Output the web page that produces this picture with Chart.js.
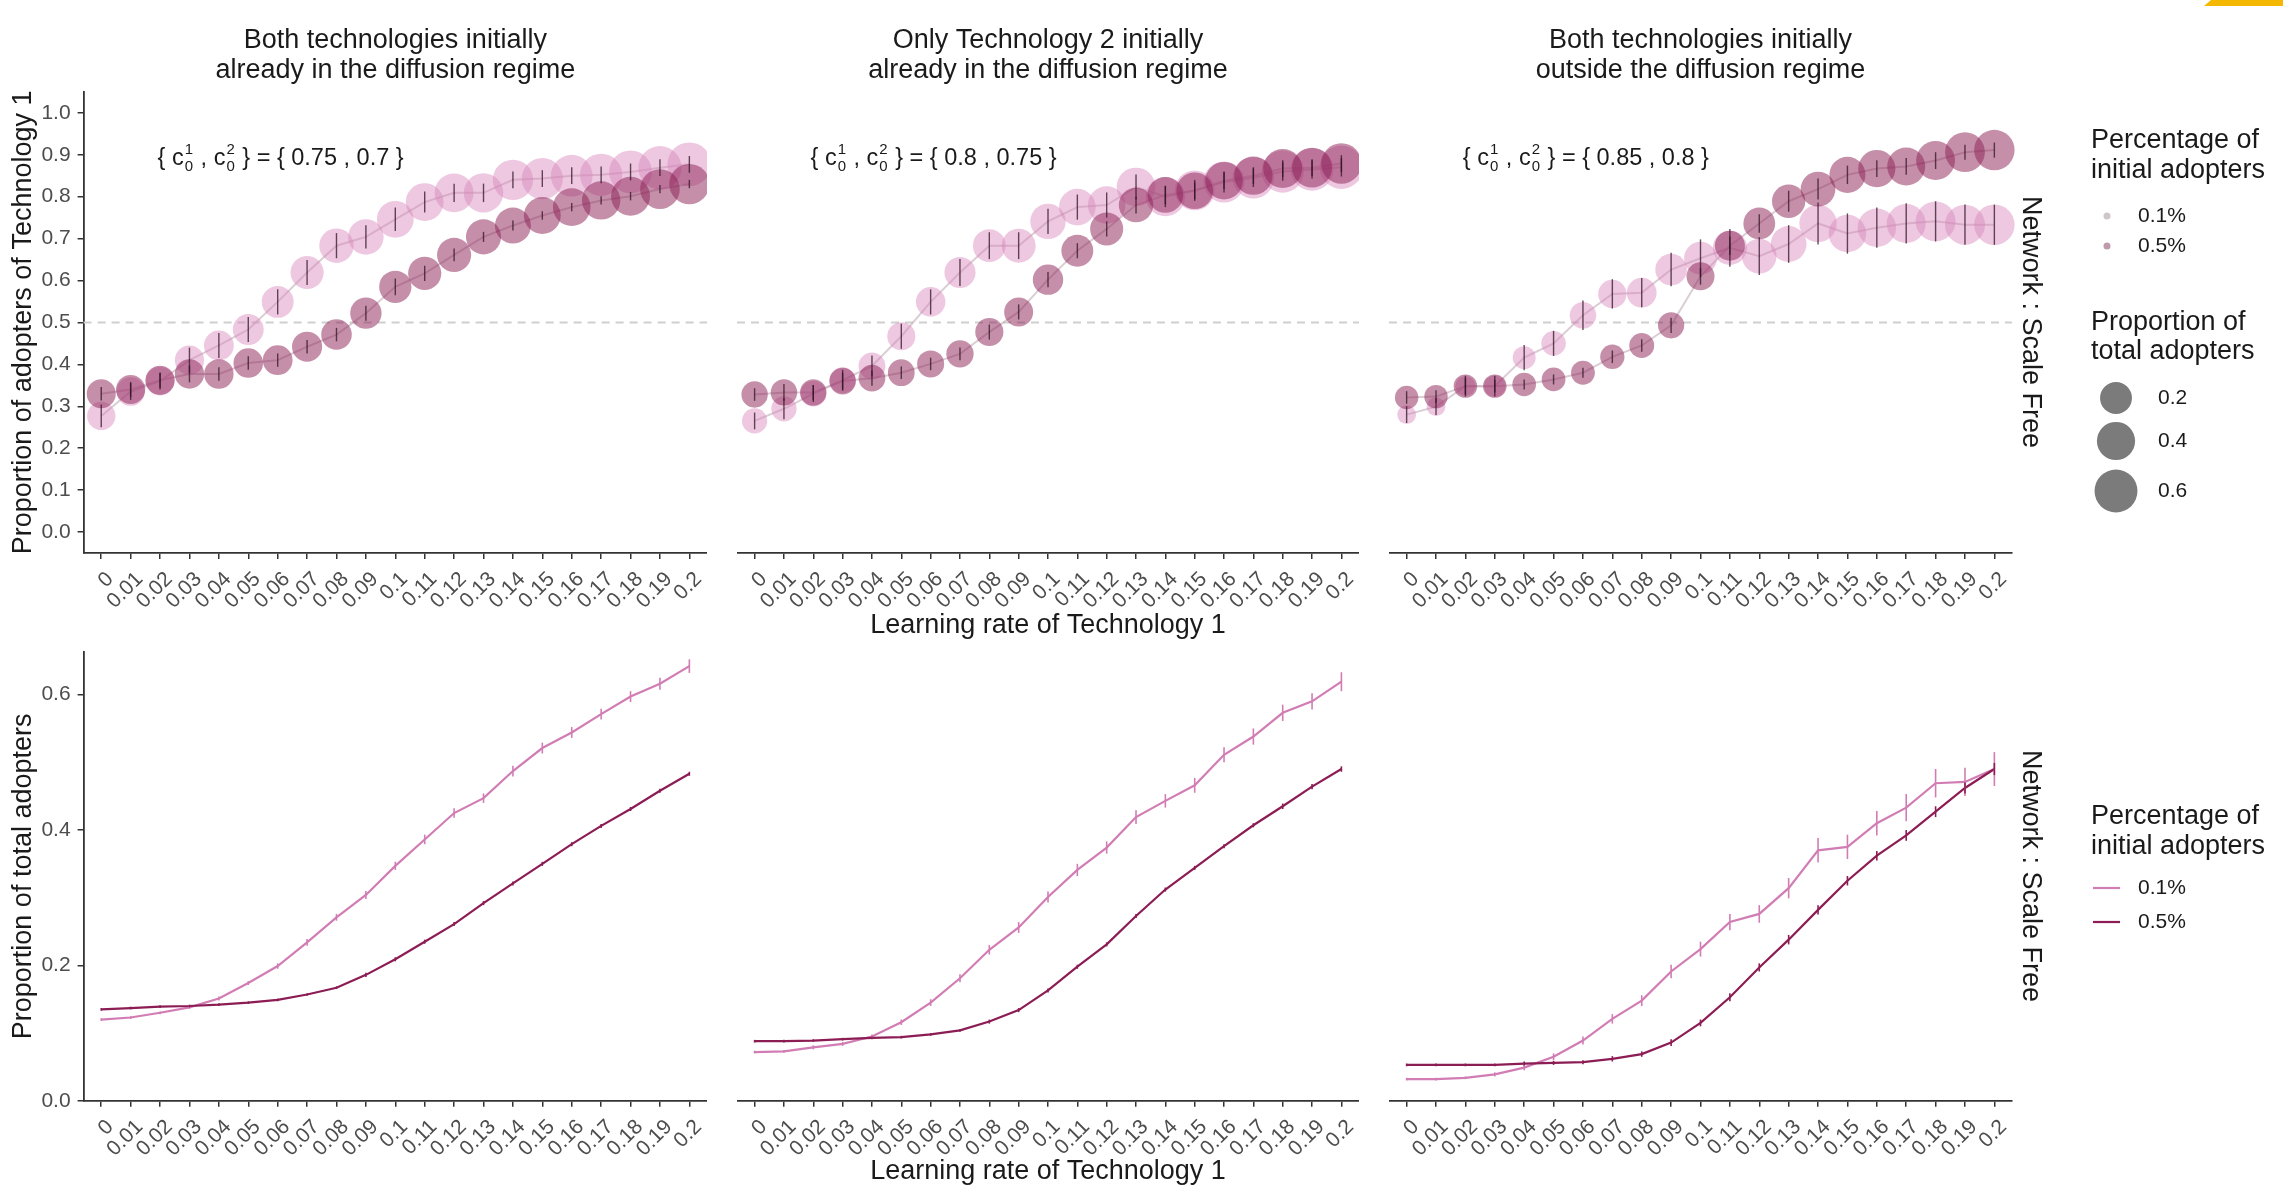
<!DOCTYPE html>
<html>
<head>
<meta charset="utf-8">
<script src="https://cdn.jsdelivr.net/npm/chart.js@4.4.1/dist/chart.umd.min.js"></script>
<style>
  html, body { margin: 0; padding: 0; background: #fff; }
  body { width: 2283px; height: 1188px; position: relative; overflow: hidden; }
  canvas { position: absolute; }
</style>
</head>
<body>
<canvas id="topBoth"></canvas>
<canvas id="topOnly"></canvas>
<canvas id="topOut"></canvas>
<canvas id="botBoth"></canvas>
<canvas id="botOnly"></canvas>
<canvas id="botOut"></canvas>
<script>
// learning rate of technology 1 (x categories)
const rates = ['0', '0.01', '0.02', '0.03', '0.04', '0.05', '0.06', '0.07', '0.08', '0.09', '0.1',
  '0.11', '0.12', '0.13', '0.14', '0.15', '0.16', '0.17', '0.18', '0.19', '0.2'];
const topYTicks = [0, 0.1, 0.2, 0.3, 0.4, 0.5, 0.6, 0.7, 0.8, 0.9, 1.0];
const bottomYTicks = [0, 0.2, 0.4, 0.6];
const initialShares = ['0.1%', '0.5%'];
const sizeBreaks = [0.2, 0.4, 0.6];
const cValues = [['0.75', '0.7'], ['0.8', '0.75'], ['0.85', '0.8']];

// proportion of adopters of technology 1 (top row)
const shareLowBoth = [0.277, 0.335, 0.36, 0.41, 0.445, 0.483, 0.549, 0.619, 0.683, 0.704, 0.746, 0.787, 0.809, 0.809, 0.84, 0.843, 0.85, 0.852, 0.859, 0.869, 0.877];
const shareHighBoth = [0.33, 0.34, 0.362, 0.377, 0.377, 0.403, 0.41, 0.442, 0.471, 0.522, 0.585, 0.617, 0.661, 0.704, 0.731, 0.755, 0.775, 0.791, 0.801, 0.818, 0.83];
const shareLowOnly = [0.265, 0.294, 0.33, 0.362, 0.396, 0.467, 0.549, 0.619, 0.683, 0.683, 0.741, 0.775, 0.78, 0.823, 0.80, 0.815, 0.835, 0.845, 0.86, 0.865, 0.87];
const shareHighOnly = [0.328, 0.333, 0.333, 0.36, 0.367, 0.38, 0.401, 0.425, 0.477, 0.525, 0.602, 0.671, 0.723, 0.78, 0.804, 0.814, 0.838, 0.85, 0.867, 0.869, 0.879];
const shareLowOut = [0.28, 0.299, 0.348, 0.348, 0.416, 0.45, 0.517, 0.568, 0.571, 0.626, 0.653, 0.678, 0.658, 0.687, 0.736, 0.712, 0.726, 0.736, 0.741, 0.733, 0.733];
const shareHighOut = [0.321, 0.323, 0.348, 0.348, 0.352, 0.364, 0.38, 0.418, 0.445, 0.493, 0.61, 0.683, 0.736, 0.789, 0.818, 0.852, 0.867, 0.872, 0.886, 0.906, 0.911];

// proportion of total adopters (bottom row, also bubble size)
const totalLowBoth = [0.12, 0.123, 0.13, 0.138, 0.151, 0.174, 0.199, 0.234, 0.271, 0.304, 0.347, 0.386, 0.425, 0.447, 0.487, 0.521, 0.544, 0.571, 0.597, 0.616, 0.642];
const totalHighBoth = [0.135, 0.137, 0.139, 0.14, 0.142, 0.145, 0.149, 0.157, 0.167, 0.186, 0.209, 0.235, 0.261, 0.292, 0.321, 0.35, 0.379, 0.406, 0.431, 0.458, 0.483];
const totalLowOnly = [0.072, 0.073, 0.079, 0.084, 0.095, 0.116, 0.145, 0.181, 0.223, 0.256, 0.301, 0.341, 0.374, 0.419, 0.443, 0.466, 0.511, 0.538, 0.573, 0.59, 0.619];
const totalHighOnly = [0.088, 0.088, 0.089, 0.091, 0.093, 0.094, 0.098, 0.104, 0.117, 0.134, 0.163, 0.198, 0.231, 0.273, 0.312, 0.344, 0.376, 0.407, 0.435, 0.464, 0.49];
const totalLowOut = [0.032, 0.032, 0.034, 0.039, 0.049, 0.065, 0.089, 0.121, 0.148, 0.191, 0.224, 0.264, 0.276, 0.314, 0.37, 0.375, 0.41, 0.433, 0.469, 0.471, 0.49];
const totalHighOut = [0.053, 0.053, 0.053, 0.053, 0.055, 0.056, 0.057, 0.062, 0.069, 0.086, 0.115, 0.153, 0.197, 0.238, 0.282, 0.325, 0.362, 0.392, 0.427, 0.462, 0.49];

// error bar half widths
const errShareLowBoth = [0.027, 0.02, 0.02, 0.03, 0.03, 0.03, 0.03, 0.03, 0.03, 0.028, 0.028, 0.025, 0.022, 0.022, 0.02, 0.02, 0.02, 0.02, 0.02, 0.02, 0.02];
const errShareHighBoth = [0.016, 0.018, 0.018, 0.02, 0.016, 0.016, 0.016, 0.016, 0.016, 0.018, 0.02, 0.018, 0.015, 0.012, 0.012, 0.01, 0.01, 0.01, 0.01, 0.01, 0.01];
const errShareLowOnly = [0.02, 0.025, 0.02, 0.025, 0.025, 0.03, 0.03, 0.032, 0.032, 0.032, 0.03, 0.03, 0.03, 0.03, 0.025, 0.025, 0.025, 0.022, 0.022, 0.022, 0.022];
const errShareHighOnly = [0.015, 0.02, 0.018, 0.02, 0.018, 0.015, 0.015, 0.015, 0.018, 0.018, 0.018, 0.018, 0.018, 0.02, 0.022, 0.02, 0.02, 0.02, 0.02, 0.02, 0.02];
const errShareLowOut = [0.02, 0.02, 0.025, 0.025, 0.03, 0.03, 0.035, 0.035, 0.035, 0.04, 0.045, 0.045, 0.045, 0.045, 0.05, 0.048, 0.048, 0.048, 0.048, 0.048, 0.048];
const errShareHighOut = [0.015, 0.015, 0.02, 0.015, 0.012, 0.012, 0.012, 0.015, 0.015, 0.018, 0.02, 0.022, 0.022, 0.025, 0.025, 0.022, 0.02, 0.02, 0.02, 0.018, 0.018];
const errTotalLowBoth = [0.002, 0.002, 0.002, 0.002, 0.003, 0.003, 0.004, 0.005, 0.005, 0.006, 0.006, 0.007, 0.007, 0.007, 0.008, 0.008, 0.008, 0.008, 0.008, 0.009, 0.01];
const errTotalHighBoth = [0.002, 0.002, 0.002, 0.002, 0.002, 0.002, 0.002, 0.002, 0.002, 0.003, 0.003, 0.003, 0.003, 0.003, 0.003, 0.003, 0.003, 0.003, 0.003, 0.003, 0.003];
const errTotalLowOnly = [0.002, 0.002, 0.003, 0.003, 0.003, 0.004, 0.005, 0.006, 0.007, 0.008, 0.008, 0.009, 0.009, 0.01, 0.01, 0.011, 0.011, 0.012, 0.012, 0.012, 0.014];
const errTotalHighOnly = [0.002, 0.002, 0.002, 0.002, 0.002, 0.002, 0.002, 0.002, 0.003, 0.003, 0.003, 0.003, 0.003, 0.003, 0.003, 0.003, 0.003, 0.003, 0.004, 0.004, 0.004];
const errTotalLowOut = [0.002, 0.002, 0.002, 0.003, 0.004, 0.005, 0.006, 0.007, 0.008, 0.01, 0.011, 0.012, 0.013, 0.015, 0.018, 0.018, 0.018, 0.02, 0.021, 0.021, 0.025];
const errTotalHighOut = [0.002, 0.002, 0.002, 0.002, 0.003, 0.003, 0.003, 0.004, 0.004, 0.005, 0.005, 0.006, 0.006, 0.007, 0.007, 0.007, 0.007, 0.008, 0.008, 0.008, 0.009];

const fontFamily = '"Liberation Sans", Arial, sans-serif';
Chart.defaults.font.family = fontFamily;
Chart.defaults.animation = false;

const lowColor = '#d17db4';
const highColor = '#8c1c54';
const lowFill = 'rgba(214,132,186,0.45)';
const highFill = 'rgba(139,31,86,0.5)';
const axisColor = '#333333';
const tickText = '#4d4d4d';
const darkText = '#1a1a1a';

// ggplot-like area scale for the bubbles
const allTotals = [].concat(totalLowBoth, totalHighBoth, totalLowOnly, totalHighOnly, totalLowOut, totalHighOut);
const sizeMin = Math.min(...allTotals);
const sizeMax = Math.max(...allTotals);
function bubbleRadius(v) {
  return 9.4 + 12.5 * Math.sqrt(Math.max(0, (v - sizeMin) / (sizeMax - sizeMin)));
}

function font(size) { return size + 'px ' + fontFamily; }

function drawNote(ctx, cx, cy, pair) {
  const parts = [['t', '{ c'], ['s', '1'], ['t', ' , c'], ['s', '2'], ['t', ' } = { ' + pair[0] + ' , ' + pair[1] + ' }']];
  let total = 0;
  parts.forEach(p => {
    ctx.font = p[0] === 't' ? font(23.5) : font(15);
    p.push(p[0] === 't' ? ctx.measureText(p[1]).width : Math.max(ctx.measureText(p[1]).width, ctx.measureText('0').width) + 2);
    total += p[2];
  });
  let x = cx - total / 2;
  ctx.fillStyle = darkText;
  ctx.textBaseline = 'middle';
  ctx.textAlign = 'left';
  parts.forEach(p => {
    if (p[0] === 't') {
      ctx.font = font(23.5);
      ctx.fillText(p[1], x, cy);
    } else {
      ctx.font = font(15);
      ctx.fillText(p[1], x + 1, cy - 9);
      ctx.fillText('0', x + 1, cy + 8);
    }
    x += p[2];
  });
}

function drawLegend(ctx, kind, top) {
  ctx.fillStyle = darkText;
  ctx.textAlign = 'left';
  ctx.textBaseline = 'middle';
  ctx.font = font(27);
  ctx.fillText('Percentage of', 2091, top);
  ctx.fillText('initial adopters', 2091, top + 30);
  ctx.font = font(21);
  initialShares.forEach((lab, i) => {
    const y = top + (kind === 'line' ? 71 + i * 34 : 75 + i * 30);
    if (kind === 'line') {
      ctx.strokeStyle = i === 0 ? lowColor : highColor;
      ctx.lineWidth = 2.2;
      ctx.beginPath(); ctx.moveTo(2093, y); ctx.lineTo(2120, y); ctx.stroke();
    } else {
      ctx.fillStyle = i === 0 ? 'rgba(170,150,160,0.55)' : 'rgba(140,70,100,0.55)';
      ctx.beginPath(); ctx.arc(2107, y, 3.5, 0, Math.PI * 2); ctx.fill();
    }
    ctx.fillStyle = darkText;
    ctx.fillText(lab, 2138, y);
  });
  if (kind !== 'bubble') return;
  ctx.font = font(27);
  ctx.fillText('Proportion of', 2091, top + 182);
  ctx.fillText('total adopters', 2091, top + 211);
  ctx.font = font(21);
  const ys = [top + 257, top + 300, top + 350];
  sizeBreaks.forEach((v, i) => {
    ctx.fillStyle = 'rgba(90,90,90,0.8)';
    ctx.beginPath(); ctx.arc(2116, ys[i], bubbleRadius(v), 0, Math.PI * 2); ctx.fill();
    ctx.fillStyle = darkText;
    ctx.fillText(v.toFixed(1), 2158, ys[i]);
  });
}

const panelExtras = {
  id: 'panelExtras',
  beforeDatasetsDraw(chart, args, opts) {
    if (opts.refLine == null) return;
    const {ctx, chartArea} = chart;
    const y = chart.scales.y.getPixelForValue(opts.refLine);
    ctx.save();
    ctx.strokeStyle = '#cfcfcf';
    ctx.lineWidth = 2;
    ctx.setLineDash([8, 6]);
    ctx.beginPath(); ctx.moveTo(chartArea.left, y); ctx.lineTo(chartArea.right, y); ctx.stroke();
    ctx.restore();
  },
  afterDatasetsDraw(chart, args, opts) {
    const {ctx} = chart;
    const xs = chart.scales.x, ys = chart.scales.y;
    ctx.save();
    chart.data.datasets.forEach(ds => {
      if (!ds.errors) return;
      ctx.strokeStyle = ds.errorColor;
      ctx.lineWidth = ds.errorWidth;
      ds.data.forEach((p, i) => {
        const x = xs.getPixelForValue(p.x);
        ctx.beginPath();
        ctx.moveTo(x, ys.getPixelForValue(p.y - ds.errors[i]));
        ctx.lineTo(x, ys.getPixelForValue(p.y + ds.errors[i]));
        ctx.stroke();
      });
    });
    if (opts.note) drawNote(ctx, xs.getPixelForValue(6.1), ys.getPixelForValue(0.9) + 4, opts.note);
    ctx.restore();
  },
  afterDraw(chart, args, opts) {
    if (!opts.legend) return;
    const {ctx} = chart;
    ctx.save();
    ctx.translate(-opts.originX, -opts.originY);
    // strip label
    ctx.fillStyle = darkText;
    ctx.font = font(27);
    ctx.textAlign = 'center';
    ctx.textBaseline = 'middle';
    ctx.save();
    ctx.translate(2030, opts.stripY);
    ctx.rotate(Math.PI / 2);
    ctx.fillText('Network : Scale Free', 0, 0);
    ctx.restore();
    drawLegend(ctx, opts.legend, opts.legendTop);
    if (opts.corner) {
      ctx.fillStyle = '#f5b800';
      ctx.beginPath();
      ctx.moveTo(2211, 0); ctx.lineTo(2283, 0); ctx.lineTo(2283, 6); ctx.lineTo(2204, 6);
      ctx.closePath(); ctx.fill();
    }
    ctx.restore();
  }
};

const columns = [
  {left: 0, width: 707, padRight: 0, yAxis: true},
  {left: 737, width: 622, padRight: 0, yAxis: false},
  {left: 1389, width: 894, padRight: 271, yAxis: false}
];
const rows = {top: {top: 0, height: 642, axisH: 89}, bottom: {top: 642, height: 546, axisH: 87.2}};

function xAxis(showTitle, height) {
  return {
    type: 'linear', min: -0.6, max: 20.6,
    afterBuildTicks: s => { s.ticks = rates.map((_, i) => ({value: i})); },
    afterFit: s => { s.height = height; s.paddingLeft = 0; s.paddingRight = 0; },
    ticks: {autoSkip: false, minRotation: 45, maxRotation: 45, labelOffset: 9, padding: 8,
      font: {size: 21}, color: tickText, callback: v => rates[v]},
    grid: {display: true, drawOnChartArea: false, drawTicks: true, tickLength: 6, color: axisColor, lineWidth: 1.5},
    border: {display: true, color: axisColor, width: 1.8},
    title: {display: showTitle, text: 'Learning rate of Technology 1', font: {size: 27, lineHeight: 1.2},
      color: darkText, padding: 0}
  };
}

function yAxis(show, min, max, ticks, title) {
  const axis = {type: 'linear', min: min, max: max, display: show};
  if (!show) return axis;
  return Object.assign(axis, {
    afterBuildTicks: s => { s.ticks = ticks.map(v => ({value: v})); },
    afterFit: s => { s.width = 83.6; s.paddingTop = 0; s.paddingBottom = 0; },
    ticks: {font: {size: 21}, color: tickText, padding: 7, callback: v => v.toFixed(1)},
    grid: {display: true, drawOnChartArea: false, drawTicks: true, tickLength: 6, color: axisColor, lineWidth: 1.5},
    border: {display: true, color: axisColor, width: 1.8},
    title: {display: true, text: title, font: {size: 27, lineHeight: 1.2}, color: darkText, padding: {top: 7, bottom: 0}}
  });
}

function points(values) { return values.map((v, i) => ({x: i, y: v})); }
function bubbles(values, totals) { return values.map((v, i) => ({x: i, y: v, r: bubbleRadius(totals[i])})); }

function place(id, col, row) {
  const c = document.getElementById(id);
  c.width = col.width; c.height = row.height;
  c.style.left = col.left + 'px'; c.style.top = row.top + 'px';
  return c;
}

const topPanels = [
  {id: 'topBoth', title: ['Both technologies initially', 'already in the diffusion regime'],
    low: shareLowBoth, high: shareHighBoth, lowSize: totalLowBoth, highSize: totalHighBoth, lowErr: errShareLowBoth, highErr: errShareHighBoth},
  {id: 'topOnly', title: ['Only Technology 2 initially', 'already in the diffusion regime'],
    low: shareLowOnly, high: shareHighOnly, lowSize: totalLowOnly, highSize: totalHighOnly, lowErr: errShareLowOnly, highErr: errShareHighOnly},
  {id: 'topOut', title: ['Both technologies initially', 'outside the diffusion regime'],
    low: shareLowOut, high: shareHighOut, lowSize: totalLowOut, highSize: totalHighOut, lowErr: errShareLowOut, highErr: errShareHighOut}
];

topPanels.forEach((p, k) => {
  const col = columns[k], row = rows.top;
  const extras = {refLine: 0.5, note: cValues[k]};
  if (k === 2) Object.assign(extras, {legend: 'bubble', originX: col.left, originY: row.top, stripY: 322, legendTop: 141, corner: true});
  new Chart(place(p.id, col, row), {
    type: 'bubble',
    data: {
      datasets: [
        {type: 'line', data: points(p.low), borderColor: 'rgba(195,172,184,0.6)', borderWidth: 2, pointRadius: 0, order: 3, clip: false},
        {type: 'line', data: points(p.high), borderColor: 'rgba(195,172,184,0.6)', borderWidth: 2, pointRadius: 0, order: 3, clip: false},
        {label: initialShares[0], data: bubbles(p.low, p.lowSize), backgroundColor: lowFill, borderWidth: 0, order: 2, clip: false,
          errors: p.lowErr, errorColor: 'rgba(50,20,38,0.75)', errorWidth: 1.4},
        {label: initialShares[1], data: bubbles(p.high, p.highSize), backgroundColor: highFill, borderWidth: 0, order: 1, clip: false,
          errors: p.highErr, errorColor: 'rgba(50,20,38,0.75)', errorWidth: 1.4}
      ]
    },
    options: {
      responsive: false, devicePixelRatio: 1,
      layout: {autoPadding: false, padding: {left: 0, top: 0, bottom: 0, right: col.padRight}},
      scales: {
        x: xAxis(k === 1, row.axisH),
        y: yAxis(col.yAxis, -0.05, 1.05, topYTicks, 'Proportion of adopters of Technology 1')
      },
      plugins: {
        legend: {display: false}, tooltip: {enabled: false},
        title: {display: true, text: p.title, fullSize: false, color: darkText,
          font: {size: 27, weight: 'normal', lineHeight: 1.08}, padding: {top: 26.4, bottom: 7.1}},
        panelExtras: extras
      }
    },
    plugins: [panelExtras]
  });
});

const bottomPanels = [
  {id: 'botBoth', low: totalLowBoth, high: totalHighBoth, lowErr: errTotalLowBoth, highErr: errTotalHighBoth},
  {id: 'botOnly', low: totalLowOnly, high: totalHighOnly, lowErr: errTotalLowOnly, highErr: errTotalHighOnly},
  {id: 'botOut', low: totalLowOut, high: totalHighOut, lowErr: errTotalLowOut, highErr: errTotalHighOut}
];

bottomPanels.forEach((p, k) => {
  const col = columns[k], row = rows.bottom;
  const extras = {};
  if (k === 2) Object.assign(extras, {legend: 'line', originX: col.left, originY: row.top, stripY: 876, legendTop: 817});
  new Chart(place(p.id, col, row), {
    type: 'line',
    data: {
      datasets: [
        {label: initialShares[0], data: points(p.low), borderColor: lowColor, borderWidth: 2.2, pointRadius: 0, order: 2, clip: false,
          errors: p.lowErr, errorColor: lowColor, errorWidth: 1.6},
        {label: initialShares[1], data: points(p.high), borderColor: highColor, borderWidth: 2.2, pointRadius: 0, order: 1, clip: false,
          errors: p.highErr, errorColor: highColor, errorWidth: 1.6}
      ]
    },
    options: {
      responsive: false, devicePixelRatio: 1,
      layout: {autoPadding: false, padding: {left: 0, top: 9.9, bottom: 0, right: col.padRight}},
      scales: {
        x: xAxis(k === 1, row.axisH),
        y: yAxis(col.yAxis, 0, 0.663, bottomYTicks, 'Proportion of total adopters')
      },
      plugins: {legend: {display: false}, tooltip: {enabled: false}, panelExtras: extras}
    },
    plugins: [panelExtras]
  });
});
</script>
</body>
</html>
